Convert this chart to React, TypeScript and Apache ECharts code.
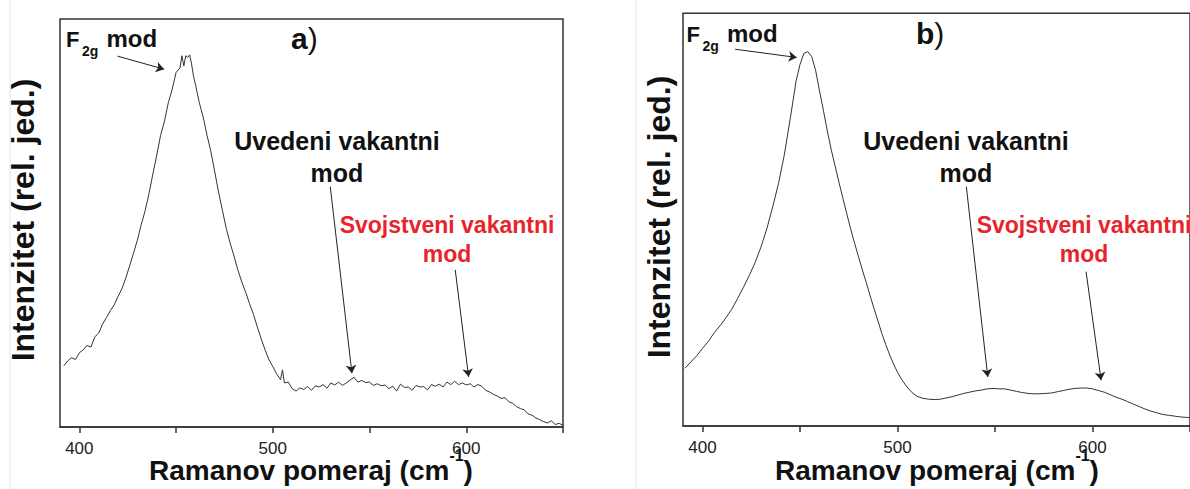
import React, { useEffect, useRef } from "react";
import * as echarts from "echarts";

const FONT = "'Liberation Sans', Arial, Helvetica, sans-serif";

const xTicks = [400, 450, 500, 550, 600, 650];
const xTickLabels = [400, 500, 600];

const ramanA = [392,394,396,398,400,402,404,406,408,410,412,414,416,418,420,422,424,426,428,430,432,434,436,438,440,442,444,446,448,450,452,453,454,455,456,457,458,459,460,462,464,466,468,470,472,474,476,478,480,482,484,486,488,490,492,494,496,498,500,502,504,505,506,508,510,512,514,516,518,520,522,524,526,528,530,532,534,536,538,540,542,544,546,548,550,552,554,556,558,560,562,564,566,568,570,572,574,576,578,580,582,584,586,588,590,592,594,596,598,600,602,604,606,608,610,612,614,616,618,620,622,624,626,628,630,632,634,636,638,640,642,644,646,648,650];
const intensityA = [15.0,16.2,17.0,16.5,18.2,18.9,20.0,19.6,22.1,23.0,25.2,26.8,28.5,29.9,32.0,33.9,36.5,39.5,42.6,45.8,49.6,53.0,57.2,62.0,66.6,71.5,75.0,79.5,82.8,86.9,88.0,91.0,88.5,91.0,90.6,91.2,89.0,86.0,84.0,79.5,76.0,71.5,67.5,62.5,57.5,53.0,48.5,45.0,41.8,38.4,35.5,33.0,30.2,27.6,24.5,21.6,18.9,16.5,14.8,13.0,11.6,14.0,10.8,11.0,9.4,8.8,9.6,9.2,9.9,9.0,10.1,9.8,10.4,9.5,10.8,10.3,11.0,10.2,10.8,11.5,12.2,11.0,11.4,10.9,11.0,10.2,10.6,10.1,10.3,9.4,10.0,8.8,10.5,9.7,9.8,9.0,10.2,9.8,9.9,9.1,10.4,10.0,10.5,9.8,11.0,10.4,11.2,10.4,10.8,10.3,10.6,9.8,10.4,10.0,9.0,8.6,8.0,7.6,7.0,7.2,6.2,5.8,5.0,4.5,4.2,3.2,2.9,2.2,1.8,1.3,1.0,1.5,0.6,0.9,0.4];

const ramanB = [391,394,397,400,403,406,409,412,415,418,421,424,427,430,433,436,439,442,445,448,450,452,454,456,458,460,462,464,466,468,470,472,474,476,478,480,482,484,486,488,490,492,494,496,498,500,502,504,506,508,510,513,516,519,522,525,528,531,534,537,540,543,546,549,552,555,558,561,564,567,570,573,576,579,582,585,588,591,594,597,600,603,606,609,612,615,618,621,624,627,630,633,636,639,642,645,648,650];
const intensityB = [14.0,15.5,17.0,18.8,20.5,22.6,24.3,26.2,28.3,30.9,33.6,36.5,39.6,43.4,47.8,53.1,58.8,65.8,74.5,83.6,87.6,90.3,90.7,89.5,86.2,81.2,76.5,71.5,67.0,63.0,59.0,55.2,51.4,47.7,44.3,41.0,37.8,34.7,31.5,28.4,25.4,22.4,19.7,17.2,15.0,13.0,11.4,10.0,8.8,7.9,7.2,6.7,6.5,6.4,6.5,6.8,7.1,7.5,7.9,8.2,8.5,8.7,9.0,9.1,9.0,9.0,8.7,8.4,8.1,7.9,7.8,7.8,7.9,8.0,8.3,8.6,8.9,9.1,9.2,9.2,9.0,8.6,8.2,7.6,7.0,6.5,5.9,5.3,4.7,4.1,3.6,3.2,2.8,2.6,2.4,2.2,2.1,2.0];

// annotation arrows in data coordinates: [start, end]
const arrowsA = [
  [[419.7, 90.9], [443.8, 87.7]],
  [[529.7, 58.9], [540.9, 13.2]],
  [[594.3, 38.5], [601.2, 12.3]],
];
const arrowsB = [
  [[416.7, 91.3], [448.3, 89.3]],
  [[535.3, 58.0], [546.3, 11.9]],
  [[596.7, 37.4], [604.4, 11.1]],
];

const AX = "#333";
const INK = "#111";

function measure(text: string, size: number): number {
  const c = document.createElement("canvas").getContext("2d");
  if (!c) return text.length * size * 0.58;
  c.font = "bold " + size + "px " + FONT;
  return c.measureText(text).width;
}

function makeXAxis(gridIndex: number) {
  return {
    type: "value",
    gridIndex,
    min: 390,
    max: 650,
    axisLine: { show: true, lineStyle: { color: AX, width: 1.5 } },
    axisTick: {
      show: true,
      inside: false,
      length: 6,
      customValues: xTicks,
      lineStyle: { color: AX, width: 1.5 },
    },
    axisLabel: {
      show: true,
      customValues: xTickLabels,
      margin: 14,
      fontSize: 17,
      lineHeight: 15,
      color: "#222",
      fontFamily: FONT,
    },
    splitLine: { show: false },
  };
}

function makeYAxis(gridIndex: number) {
  return { type: "value", gridIndex, min: 0, max: 100, show: false };
}

function makeSeries(idx: number, xs: number[], ys: number[], arrows: number[][][]) {
  return {
    type: "line",
    xAxisIndex: idx,
    yAxisIndex: idx,
    data: xs.map((x, i) => [x, ys[i]]),
    symbol: "none",
    showSymbol: false,
    silent: true,
    lineStyle: { color: "#333", width: 1 },
    markLine: {
      silent: true,
      symbol: ["none", "arrow"],
      symbolSize: 8,
      lineStyle: { color: "#222", width: 1, type: "solid" },
      label: { show: false },
      emphasis: { disabled: true },
      data: arrows.map(([s, e]) => [{ coord: s }, { coord: e }]),
    },
  };
}

function txt(x: number, y: number, text: string, size: number, extra: any = {}) {
  return {
    type: "text",
    x,
    y,
    style: {
      text,
      fontSize: size,
      fontWeight: "bold",
      fontFamily: FONT,
      fill: INK,
      align: "left",
      verticalAlign: "middle",
      ...extra,
    },
  };
}

function xTitle(centerX: number) {
  const main = "Ramanov pomeraj (cm";
  const sup = "-1";
  const close = ")";
  const wMain = measure(main, 28);
  const wSup = measure(sup, 16);
  const wClose = measure(close, 28);
  const left = centerX - (wMain + wSup + wClose) / 2;
  return [
    txt(left, 470.5, main, 28, { lineHeight: 26 }),
    txt(left + wMain, 455.5, sup, 16, { lineHeight: 14 }),
    txt(left + wMain + wSup, 470.5, close, 28, { lineHeight: 26 }),
  ];
}

function panelTexts(
  dy: number,
  letter: string,
  letterX: number,
  f2gX: number,
  uvX: number,
  svX: number,
  xTitleX: number,
  yTitleX: number,
  yTitleY: number
) {
  return [
    txt(f2gX, 39.1 + dy, "F", 22),
    txt(f2gX + 16, 50.6 + dy, "2g", 14),
    txt(f2gX + 40.5, 38.6 + dy, "mod", 24),
    {
      type: "text",
      x: letterX,
      y: 38 + dy,
      style: {
        text: "{b|" + letter + "}{p|)}",
        align: "left",
        verticalAlign: "middle",
        fill: INK,
        rich: {
          b: { fontSize: 30, fontWeight: "bold", fontFamily: FONT, fill: INK },
          p: { fontSize: 30, fontWeight: "normal", fontFamily: FONT, fill: INK },
        },
      },
    },
    {
      type: "text",
      x: uvX,
      y: 125.5,
      style: {
        text: "Uvedeni vakantni\nmod",
        align: "center",
        verticalAlign: "top",
        fontSize: 25,
        fontWeight: "bold",
        fontFamily: FONT,
        lineHeight: 31.7,
        fill: INK,
      },
    },
    {
      type: "text",
      x: svX,
      y: 210.7,
      style: {
        text: "Svojstveni vakantni\nmod",
        align: "center",
        verticalAlign: "top",
        fontSize: 23,
        fontWeight: "bold",
        fontFamily: FONT,
        lineHeight: 28.7,
        fill: "#e8242b",
      },
    },
    ...xTitle(xTitleX),
    {
      type: "text",
      x: yTitleX,
      y: yTitleY,
      rotation: Math.PI / 2,
      style: {
        text: "Intenzitet (rel. jed.)",
        align: "center",
        verticalAlign: "middle",
        fontSize: 32,
        fontWeight: "bold",
        fontFamily: FONT,
        fill: INK,
      },
    },
  ];
}

export default function App() {
  const ref = useRef<HTMLDivElement>(null);
  useEffect(() => {
    if (!ref.current) return;
    const chart = echarts.init(ref.current, undefined, { renderer: "svg" });
    const option = {
      animation: false,
      backgroundColor: "#ffffff",
      grid: [
        { left: 60, top: 19, width: 503, height: 408, show: true, borderColor: AX, borderWidth: 1.5, backgroundColor: "transparent" },
        { left: 683, top: 13.3, width: 508, height: 412.7, show: true, borderColor: AX, borderWidth: 1.5, backgroundColor: "transparent" },
      ],
      xAxis: [makeXAxis(0), makeXAxis(1)],
      yAxis: [makeYAxis(0), makeYAxis(1)],
      series: [makeSeries(0, ramanA, intensityA, arrowsA), makeSeries(1, ramanB, intensityB, arrowsB)],
      graphic: [
        { type: "line", shape: { x1: 10, y1: 0, x2: 10, y2: 489 }, style: { stroke: "#e4e4e4", lineWidth: 1 } },
        { type: "line", shape: { x1: 636, y1: 0, x2: 636, y2: 489 }, style: { stroke: "#e4e4e4", lineWidth: 1 } },
        ...panelTexts(0, "a", 291, 66, 337, 447, 311, 22.6, 220),
        ...panelTexts(-5, "b", 916, 686.5, 966, 1084, 937, 659, 217),
      ],
    };
    chart.setOption(option as any);
    return () => chart.dispose();
  }, []);
  return (
    <div
      ref={ref}
      style={{ position: "fixed", left: 0, top: 0, width: 1190, height: 489, background: "#fff" }}
    />
  );
}
